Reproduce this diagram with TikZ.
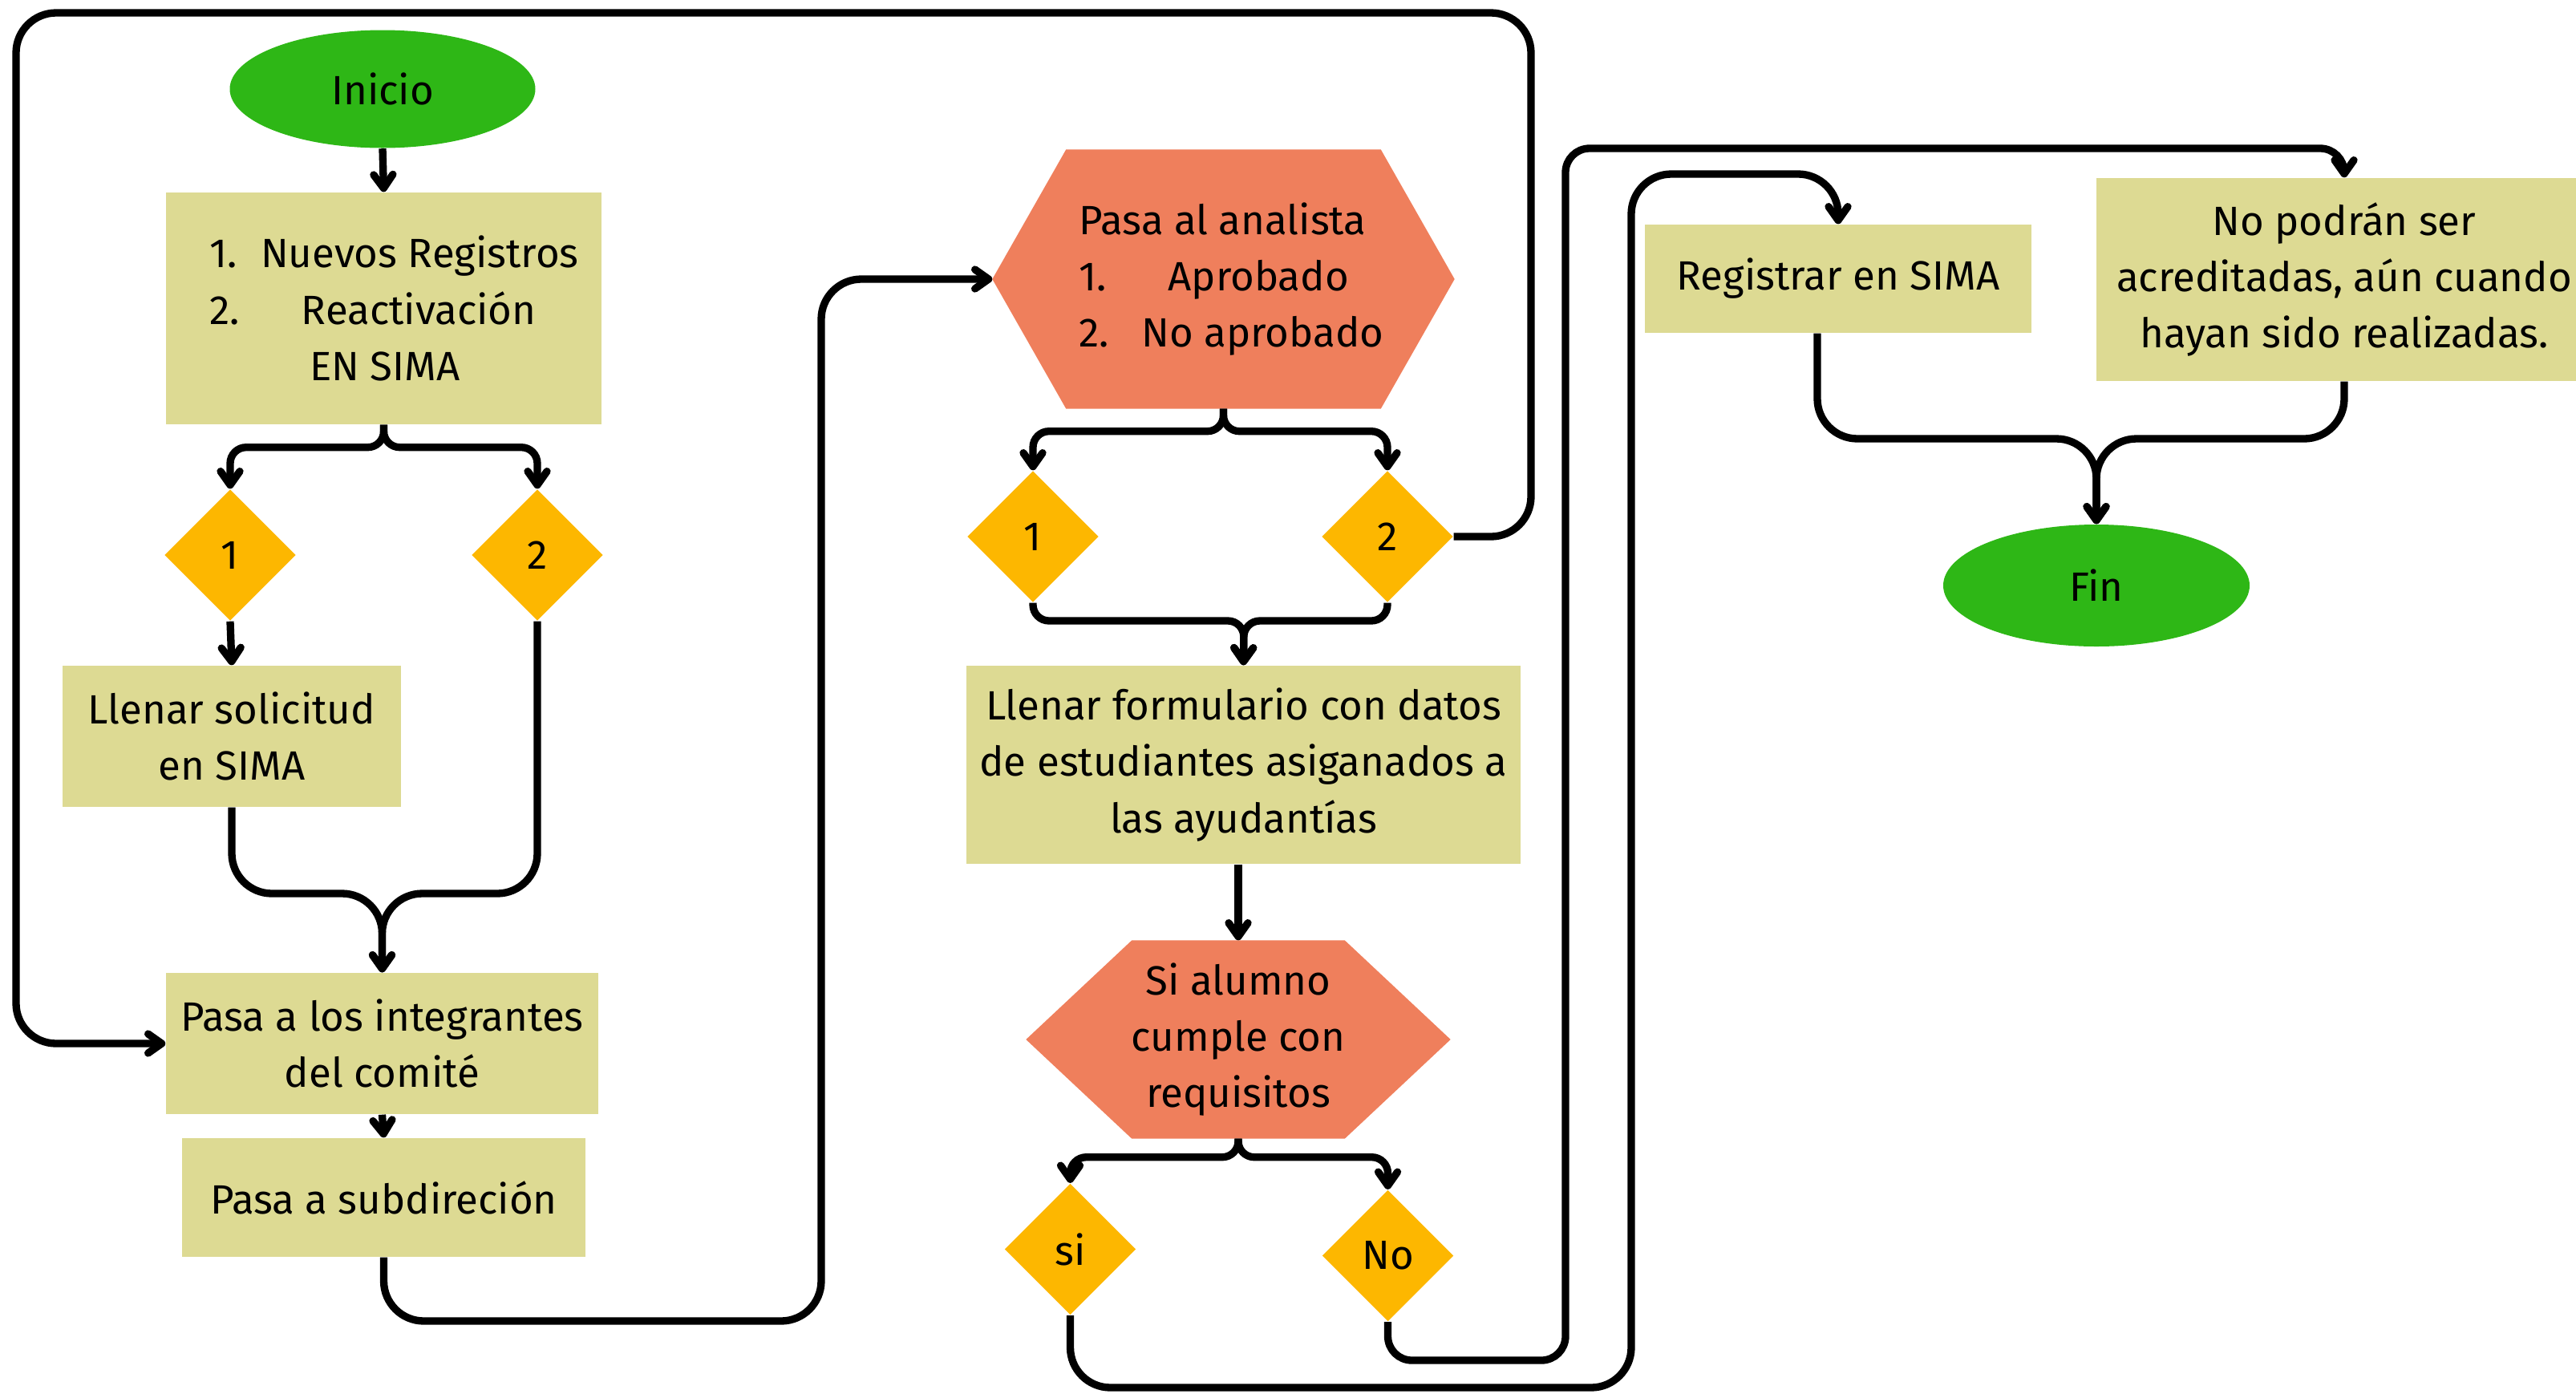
\documentclass[tikz,border=0pt]{standalone}
\usepackage{fontspec}
\setmainfont{Fira Sans}
\usetikzlibrary{arrows.meta,calc,shapes.geometric,backgrounds}
\definecolor{verdeInicio}{HTML}{2EB716}
\definecolor{cajaOliva}{HTML}{DDDA93}
\definecolor{hexSalmon}{HTML}{EF7F5C}
\definecolor{romboAmbar}{HTML}{FDB700}
\tikzset{
	every node/.style={font=\fontsize{14.5}{20}\selectfont},
	caja/.style={rectangle, fill=cajaOliva, inner sep=0pt, align=center},
	extremo/.style={ellipse, fill=verdeInicio, inner sep=0pt},
	decision/.style={diamond, fill=romboAmbar, inner sep=0pt, minimum width=1.64cm, minimum height=1.64cm},
	hexa/.style={rectangle, inner sep=0pt, align=center},
	flecha/.style={line width=2.65pt, -{Straight Barb[length=1.7mm,width=2.4mm,round]}, rounded corners=5mm},
}
\newcommand{\hexfondo}[2]{\fill[hexSalmon] (#1.west) -- ($(#1.north west)+(#2,0)$) -- ($(#1.north east)+(-#2,0)$) -- (#1.east) -- ($(#1.south east)+(-#2,0)$) -- ($(#1.south west)+(#2,0)$) -- cycle;}

\begin{document}
\begin{tikzpicture}
		%%%%% START %%%%%
		\useasboundingbox (0,0) rectangle (32.12,-17.37);
		
		% columna izquierda
		\node[extremo, minimum width=3.81cm, minimum height=1.47cm] (inicio) at (4.77,-1.11) {Inicio};
		\node[caja, align=left, minimum width=5.43cm, minimum height=2.89cm] (registros) at (4.785,-3.845) {\hspace*{0.26cm}\makebox[1.25em][l]{1.}Nuevos Registros\\\hspace*{0.26cm}\makebox[2.25em][l]{2.}Reactivación\\\hspace*{0.26cm}\hspace*{2.45em}EN SIMA};
		\node[decision] (dA1) at (2.87,-6.92) {1};
		\node[decision] (dA2) at (6.70,-6.92) {2};
		\node[caja, minimum width=4.22cm, minimum height=1.76cm] (solicitud) at (2.89,-9.18) {Llenar solicitud\\en SIMA};
		\node[caja, minimum width=5.39cm, minimum height=1.76cm] (comite) at (4.765,-13.01) {Pasa a los integrantes\\del comité};
		\node[caja, minimum width=5.03cm, minimum height=1.48cm] (subdir) at (4.785,-14.93) {Pasa a subdireción};
		
		% columna central
		\node[hexa, align=left, minimum width=5.75cm, minimum height=3.22cm] (analista) at (15.255,-3.48) {\hspace*{0.2cm}Pasa al analista\\\hspace*{0.2cm}\makebox[2.18em][l]{1.}Aprobado\\\hspace*{0.2cm}\makebox[1.53em][l]{2.}No aprobado};
		\node[decision] (dB1) at (12.88,-6.69) {1};
		\node[decision] (dB2) at (17.30,-6.69) {2};
		\node[caja, minimum width=6.91cm, minimum height=2.47cm] (formulario) at (15.505,-9.535) {Llenar formulario con datos\\de estudiantes asiganados a\\las ayudantías};
		\node[hexa, minimum width=5.28cm, minimum height=2.46cm] (alumno) at (15.44,-12.96) {Si alumno\\cumple con\\requisitos};
		\node[decision] (dsi) at (13.345,-15.575) {si};
		\node[decision] (dno) at (17.305,-15.655) {No};
		
		% columna derecha
		\node[caja, minimum width=4.82cm, minimum height=1.35cm] (registrar) at (22.92,-3.475) {Registrar en SIMA};
		\node[caja, minimum width=6.18cm, minimum height=2.53cm] (nopodran) at (29.23,-3.485) {No podrán ser\\acreditadas, aún cuando\\hayan sido realizadas.};
		\node[extremo, minimum width=3.82cm, minimum height=1.52cm] (fin) at (26.14,-7.30) {Fin};
		
		\begin{scope}[on background layer]
			\hexfondo{analista}{0.92}
			\hexfondo{alumno}{1.32}
		\end{scope}
		
		\coordinate (union1) at (4.765,-11.14);
		\coordinate (union2) at (15.51,-7.74);
		\coordinate (union3) at (26.14,-5.47);
		\coordinate (bajo1) at (10.24,-16.47);
		\coordinate (bajo2) at (20.34,-17.30);
		\coordinate (alto2) at (22.92,-2.17);
		\coordinate (bajo3) at (19.52,-16.96);
		\coordinate (alto3) at (29.23,-1.85);
		\coordinate (esq1) at (19.09,-0.16);
		\coordinate (esq2) at (0.20,-0.16);
		\coordinate (salidaReg) at ($(registrar.south)+(-0.26,0)$);
		
		% flechas
		\draw[flecha] (inicio.south) -- (registros.north);
		\draw[flecha, rounded corners=2mm] (registros.south) -- ++(0,-0.28) -| (dA1.north);
		\draw[flecha, rounded corners=2mm] (registros.south) -- ++(0,-0.28) -| (dA2.north);
		\draw[flecha] (dA1.south) -- (solicitud.north);
		\draw[flecha] (solicitud.south) |- (union1) -- (comite.north);
		\draw[flecha] (dA2.south) |- (union1) -- (comite.north);
		\draw[flecha] (comite.south) -- (subdir.north);
		\draw[flecha] (subdir.south) |- (bajo1) |- (analista.west);
		
		\draw[flecha, rounded corners=2mm] (analista.south) -- ++(0,-0.28) -| (dB1.north);
		\draw[flecha, rounded corners=2mm] (analista.south) -- ++(0,-0.28) -| (dB2.north);
		\draw[flecha, rounded corners=2mm] (dB1.south) |- (union2) -- (formulario.north);
		\draw[flecha, rounded corners=2mm] (dB2.south) |- (union2) -- (formulario.north);
		\draw[flecha] (dB2.east) -| (esq1) -- (esq2) |- (comite.west);
		\draw[flecha] (alumno.north |- formulario.south) -- (alumno.north);
		\draw[flecha, rounded corners=2mm] (alumno.south) -- ++(0,-0.23) -| (dsi.north);
		\draw[flecha, rounded corners=2mm] (alumno.south) -- ++(0,-0.23) -| (dno.north);
		
		\draw[flecha] (dsi.south) |- (bajo2) |- (alto2) -- (registrar.north);
		\draw[flecha, rounded corners=3mm] (dno.south) |- (bajo3) |- (alto3) -- (nopodran.north);
		\draw[flecha] (salidaReg) |- (union3) -- (fin.north);
		\draw[flecha] (nopodran.south) |- (union3) -- (fin.north);
		
		%%%%% END %%%%%
\end{tikzpicture}
\end{document}
